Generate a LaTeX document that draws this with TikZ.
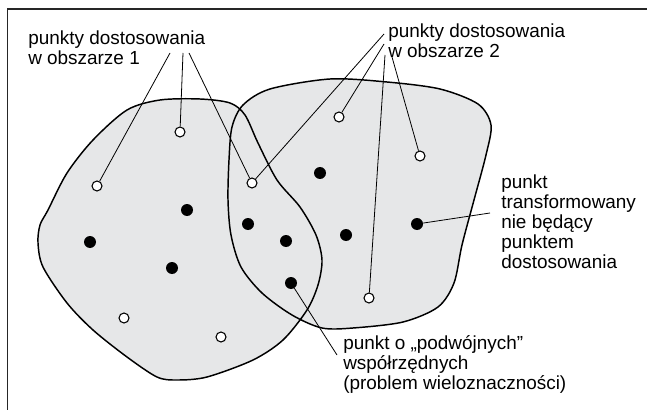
\documentclass[tikz,border=0pt]{standalone}
\usepackage{fontspec}
\setmainfont{Liberation Sans}
\begin{document}
\begin{tikzpicture}[x=0.75pt,y=-0.75pt,
  region/.style={fill=areagrey},
  outline/.style={line width=1.1pt, line join=round},
  open/.style={circle, draw, fill=white, line width=0.8pt, minimum size=7.5pt, inner sep=0pt},
  solid/.style={circle, fill=black, minimum size=9pt, inner sep=0pt},
  lead/.style={line width=0.6pt},
  label/.style={anchor=base west, inner sep=0pt, align=left,
    font=\fontsize{14.2}{15}\selectfont}]
\definecolor{areagrey}{HTML}{E6E7E8}
\useasboundingbox (0,0) rectangle (647,410);

% open frame along the top and the left side
\draw[line width=1pt, color=black!85] (7.5,410) -- (7.5,9) -- (647,9);

% region 1 and region 2 outlines
\def\regionone{(48,210) (67,173) (93,140) (127,110) (160,100) (200,99) (230,103)
  (245,115) (258,143) (277,180) (300,207) (316,235) (322,260) (318,285) (307,310)
  (283,340) (253,360) (207,377) (177,380) (157,377) (127,357) (93,330) (67,303)
  (43,267) (38,243) (40,225)}
\def\regiontwo{(229,160) (232,127) (243,105) (270,89) (330,79) (387,82) (440,89)
  (478,104) (491,125) (486,155) (474,200) (462,245) (454,283) (438,307) (403,322)
  (353,328) (322,328) (292,315) (262,293) (241,267) (231,235) (228,200)}
\path[region] plot[smooth cycle] coordinates {\regionone};
\path[region] plot[smooth cycle] coordinates {\regiontwo};
\draw[outline] plot[smooth cycle] coordinates {\regionone};
\draw[outline] plot[smooth cycle] coordinates {\regiontwo};

% control points (open) and transformed points (filled)
\node[open] (c1) at (180,132) {};
\node[open] (c2) at (97,186) {};
\node[open] (c3) at (252,183) {};
\node[open] (c4) at (339,117) {};
\node[open] (c5) at (420,156) {};
\node[open] (c6) at (369,298) {};
\node[open] (c7) at (124,318) {};
\node[open] (c8) at (221,337) {};

\node[solid] (p1) at (320,173) {};
\node[solid] (p2) at (187,210) {};
\node[solid] (p3) at (90,242) {};
\node[solid] (p4) at (172,268) {};
\node[solid] (p5) at (248,224) {};
\node[solid] (p6) at (286,241) {};
\node[solid] (p7) at (291,283) {};
\node[solid] (p8) at (346,235) {};
\node[solid] (p9) at (417,224) {};

% labels (positioned by the baseline of their last line)
\node[label] (l1) at (28,65) {punkty dostosowania\\w obszarze 1};
\node[label] (l2) at (388,58) {punkty dostosowania\\w obszarze 2};
\node[label] (l3) at (501,268) {punkt\\transformowany\\nie będący\\punktem\\dostosowania};
\node[label] (l4) at (343,389) {punkt o „podwójnych”\\współrzędnych\\(problem wieloznaczności)};

% leader lines
\coordinate (a1) at (170,53);
\coordinate (a2) at (183,53);
\coordinate (a3) at (189,53);
\coordinate (b1) at (384,34);
\coordinate (b2) at (384,44);
\coordinate (b3) at (385,55);
\coordinate (b4) at (392,57);
\coordinate (d1) at (490,213);
\coordinate (e1) at (337,355);

\draw[lead] (a1) -- (c2);
\draw[lead] (a2) -- (c1);
\draw[lead] (a3) -- (c3);
\draw[lead] (b1) -- (c3);
\draw[lead] (b2) -- (c4);
\draw[lead] (b3) -- (c6);
\draw[lead] (b4) -- (c5);
\draw[lead] (d1) -- (p9);
\draw[lead] (e1) -- (p7);
\end{tikzpicture}
\end{document}
